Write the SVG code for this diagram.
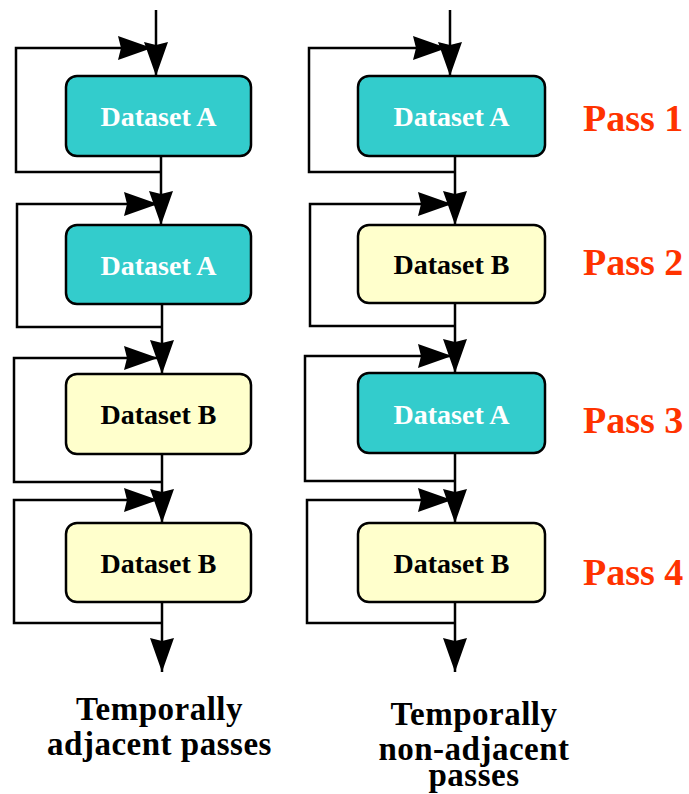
<svg xmlns="http://www.w3.org/2000/svg" width="689" height="794" viewBox="0 0 689 794">
<defs>
<marker id="ah" markerUnits="userSpaceOnUse" markerWidth="36" markerHeight="26" refX="34" refY="12" orient="auto">
<path d="M0,0 L34,12 L0,24 L3,12 Z" fill="#000"/>
</marker>
<style>
.ar{fill:none;stroke:#000;stroke-width:2.5;marker-end:url(#ah)}
.boxA{fill:#33CCCC;stroke:#000;stroke-width:2.5}
.boxB{fill:#FFFFCC;stroke:#000;stroke-width:2.5}
text{font-family:'Liberation Serif','DejaVu Serif',serif;font-weight:bold}
.tA{font-size:28px;fill:#fff;text-anchor:middle}
.tB{font-size:28px;fill:#000;text-anchor:middle}
.pass{font-size:38px;fill:#FF3300}
.cap{font-size:33px;fill:#000;text-anchor:middle;letter-spacing:0.5px}
</style>
</defs>
<rect width="689" height="794" fill="#fff"/>
<g id="connectors">
<path class="ar" d="M156,10 V76"/>
<path class="ar" d="M161,172 H16 V48 H152"/>
<path class="ar" d="M161,157 V225"/>
<path class="ar" d="M161,327 H17 V204 H158"/>
<path class="ar" d="M162,304 V374"/>
<path class="ar" d="M162,482 H14 V358 H158"/>
<path class="ar" d="M162,454 V523"/>
<path class="ar" d="M162,623 H14 V500 H158"/>
<path class="ar" d="M162,602 V672"/>
<path class="ar" d="M450,10 V76"/>
<path class="ar" d="M455,172 H309 V48 H447"/>
<path class="ar" d="M455,157 V225"/>
<path class="ar" d="M455,326 H310 V204 H452"/>
<path class="ar" d="M455,303 V373"/>
<path class="ar" d="M455,481 H305 V356 H452"/>
<path class="ar" d="M455,453 V523"/>
<path class="ar" d="M455,623 H307 V500 H452"/>
<path class="ar" d="M455,602 V672"/>
</g>
<g id="L1"><rect class="boxA" x="66" y="76" width="185" height="80" rx="11"/><text class="tA" x="158.5" y="126">Dataset A</text></g>
<g id="L2"><rect class="boxA" x="66" y="225" width="185" height="79" rx="11"/><text class="tA" x="158.5" y="275">Dataset A</text></g>
<g id="L3"><rect class="boxB" x="66" y="374" width="185" height="80" rx="11"/><text class="tB" x="158.5" y="424">Dataset B</text></g>
<g id="L4"><rect class="boxB" x="66" y="523" width="185" height="79" rx="11"/><text class="tB" x="158.5" y="573">Dataset B</text></g>
<g id="R1"><rect class="boxA" x="358" y="76" width="187" height="80" rx="11"/><text class="tA" x="451.5" y="126">Dataset A</text></g>
<g id="R2"><rect class="boxB" x="358" y="225" width="187" height="78" rx="11"/><text class="tB" x="451.5" y="274">Dataset B</text></g>
<g id="R3"><rect class="boxA" x="358" y="373" width="187" height="80" rx="11"/><text class="tA" x="451.5" y="424">Dataset A</text></g>
<g id="R4"><rect class="boxB" x="358" y="523" width="187" height="79" rx="11"/><text class="tB" x="451.5" y="573">Dataset B</text></g>
<g id="passes">
<text class="pass" x="583" y="131">Pass 1</text>
<text class="pass" x="583" y="275">Pass 2</text>
<text class="pass" x="583" y="433">Pass 3</text>
<text class="pass" x="583" y="585">Pass 4</text>
</g>
<g id="captions">
<text class="cap" x="159.5" y="720">Temporally</text>
<text class="cap" x="159.5" y="755">adjacent passes</text>
<text class="cap" x="474" y="725">Temporally</text>
<text class="cap" x="474" y="760">non-adjacent</text>
<text class="cap" x="474" y="786">passes</text>
</g>
</svg>
